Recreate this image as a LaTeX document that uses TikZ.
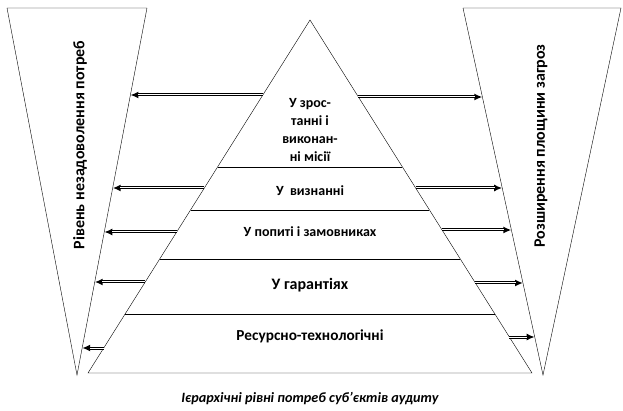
\documentclass[tikz,border=0pt]{standalone}
\usepackage{fontspec}
\setmainfont{Carlito}
\usetikzlibrary{arrows.meta,calc}
\tikzset{
  outline/.style = {draw, thin},
  tier/.style    = {align=center, font=\bfseries\fontsize{14}{17.7}\selectfont},
  sidetext/.style= {rotate=90, font=\bfseries\fontsize{16}{18}\selectfont},
  caption/.style = {font=\bfseries\itshape\fontsize{14.2}{16}\selectfont},
  dblarrow/.style = {line width=3pt, -{Latex[length=8pt,width=7pt]},
                     postaction={draw=white, line width=1pt, shorten >=7.5pt, -}},
}
\begin{document}
\begin{tikzpicture}[x=1pt,y=-1pt]
  \useasboundingbox (0,0) rectangle (623,411);
  % outer triangles
  \coordinate (LTL) at (7,8);   \coordinate (LTR) at (147,8);  \coordinate (LAp) at (77,375);
  \coordinate (RTL) at (463,8); \coordinate (RTR) at (621,8);  \coordinate (RAp) at (543,375);
  \draw[outline] (LTL) -- (LTR) -- (LAp) -- cycle;
  \draw[outline] (RTL) -- (RTR) -- (RAp) -- cycle;
  % pyramid
  \coordinate (PTop) at (310,20); \coordinate (PBL) at (88,373); \coordinate (PBR) at (532,373);
  \draw[outline] (PTop) -- (PBL) -- (PBR) -- cycle;
  \draw[outline] ($(PTop)!0.4164!(PBL)$) -- ($(PTop)!0.4164!(PBR)$);
  \draw[outline] ($(PTop)!0.5382!(PBL)$) -- ($(PTop)!0.5382!(PBR)$);
  \draw[outline] ($(PTop)!0.6771!(PBL)$) -- ($(PTop)!0.6771!(PBR)$);
  \draw[outline] ($(PTop)!0.8329!(PBL)$) -- ($(PTop)!0.8329!(PBR)$);
  % level texts
  \node[tier] (mission) at (310,130) {У зрос-\\танні і\\виконан-\\ні місії};
  \node[tier] (recog)   at (310,191) {У\ \ визнанні};
  \node[tier] (demand)  at (310,232) {У попиті і замовниках};
  \node[tier, font=\bfseries\fontsize{16}{18}\selectfont] (guar) at (310,285) {У гарантіях};
  \node[tier, font=\bfseries\fontsize{15.3}{18}\selectfont] (res) at (310,336) {Ресурсно-технологічні};
  % side texts
  \node[sidetext] (needs)   at (80,145)  {Рівень незадоволення потреб};
  \node[sidetext] (threats) at (541,146) {Розширення площини загроз};
  % left arrows
  \coordinate (L1s) at (262.8,95);  \coordinate (L1e) at (130.4,95);
  \coordinate (L2s) at (204.3,188); \coordinate (L2e) at (112.7,188);
  \coordinate (L3s) at (176.7,232); \coordinate (L3e) at (104.3,232);
  \coordinate (L4s) at (145.2,282); \coordinate (L4e) at (94.7,282);
  \coordinate (L5s) at (103.7,348); \coordinate (L5e) at (82.2,348);
  \draw[dblarrow] (L1s) -- (L1e);
  \draw[dblarrow] (L2s) -- (L2e);
  \draw[dblarrow] (L3s) -- (L3e);
  \draw[dblarrow] (L4s) -- (L4e);
  \draw[dblarrow] (L5s) -- (L5e);
  % right arrows
  \coordinate (R1s) at (358.4,97);  \coordinate (R1e) at (482.4,97);
  \coordinate (R2s) at (415.7,188); \coordinate (R2e) at (502.2,188);
  \coordinate (R3s) at (442.1,230); \coordinate (R3e) at (511.4,230);
  \coordinate (R4s) at (475.4,283); \coordinate (R4e) at (523.0,283);
  \coordinate (R5s) at (509.4,337); \coordinate (R5e) at (534.7,337);
  \draw[dblarrow] (R1s) -- (R1e);
  \draw[dblarrow] (R2s) -- (R2e);
  \draw[dblarrow] (R3s) -- (R3e);
  \draw[dblarrow] (R4s) -- (R4e);
  \draw[dblarrow] (R5s) -- (R5e);
  % caption
  \node[caption] (title) at (310,399) {Ієрархічні рівні потреб суб’єктів аудиту};
\end{tikzpicture}
\end{document}
